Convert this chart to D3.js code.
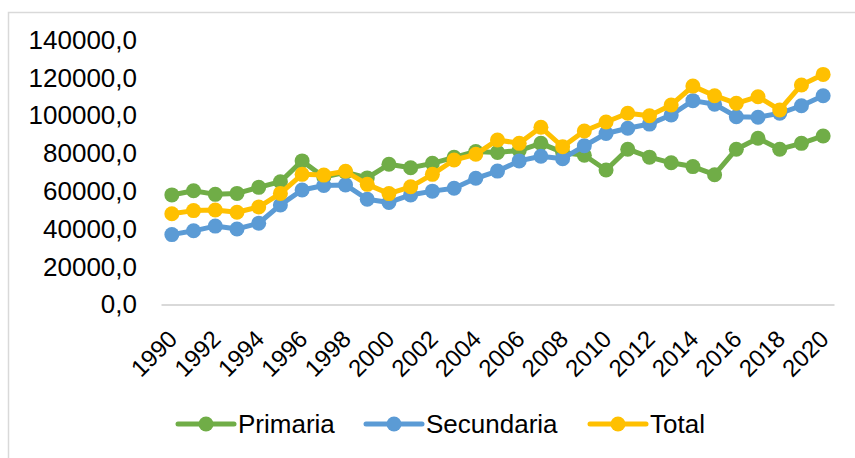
<!DOCTYPE html>
<html>
<head>
<meta charset="utf-8">
<script src="https://cdn.jsdelivr.net/npm/d3@7"></script>
<style>
  body { margin: 0; background: #fff; }
  text { font-family: "Liberation Sans", Arial, sans-serif; fill: #000; }
</style>
</head>
<body>
<div id="container"></div>
<script>
let w = 855;
let h = 458;

// data
let years = d3.range(1990, 2021);
let yTicks = [0, 20000, 40000, 60000, 80000, 100000, 120000, 140000];
let primaria = [58000, 60200, 58300, 58800, 62000, 65000, 76000, 67500, 70000, 67000,
  74200, 72400, 74700, 77900, 81000, 80500, 81500, 85300, 80500, 79000,
  71200, 82200, 78000, 75000, 73000, 68700, 82200, 88000, 82200, 85300, 89200];
let secundaria = [37000, 39000, 41500, 40000, 43000, 52700, 60600, 63000, 63300, 55700,
  54000, 58000, 60000, 61500, 66800, 70600, 76000, 78500, 77200, 84000,
  90500, 93300, 95500, 100300, 107900, 106000, 99400, 99100, 101200, 105200, 110500];
let total = [48000, 49700, 50000, 48800, 51600, 58800, 68900, 68500, 70500, 63600,
  58700, 62300, 68900, 76500, 79500, 87100, 85300, 93800, 83500, 91800,
  96600, 101200, 99900, 105600, 115600, 110500, 106500, 110000, 103000, 116200, 121800];
let seriesNames = ["Primaria", "Secundaria", "Total"];
let colors = ["#70AD47", "#5B9BD5", "#FFC000"];

let series = [primaria, secundaria, total].map(function(vals, i){
  return {name: seriesNames[i], color: colors[i], values: vals};
});

let viz = d3.select("#container").append("svg")
    .attr("width", w)
    .attr("height", h)
    .style("display", "block");

// chart frame (only top and left edges show in the picture)
viz.append("rect")
  .attr("x", 8.5).attr("y", 12.5)
  .attr("width", w).attr("height", h)
  .attr("fill", "none").attr("stroke", "#d9d9d9").attr("stroke-width", 1.5);

let plot = {left: 161, right: 834, top: 40, bottom: 304.5};

let x = d3.scaleBand().domain(years).range([plot.left, plot.right]);
let y = d3.scaleLinear().domain([0, 140000]).range([plot.bottom, plot.top]);

let fmt = function(d){ return d3.format(".1f")(d).replace(".", ","); };

// y axis
let yAxis = viz.append("g")
  .attr("transform", "translate(137,0)")
  .call(d3.axisLeft(y).tickValues(yTicks).tickFormat(fmt).tickSize(0));
yAxis.select(".domain").remove();
yAxis.selectAll("text")
  .attr("x", 0)
  .style("font-size", "26px")
  .style("font-family", "Liberation Sans, Arial, sans-serif");

// x axis
let xAxis = viz.append("g")
  .attr("transform", "translate(0," + plot.bottom + ")")
  .call(d3.axisBottom(x).tickValues(years.filter(function(d){ return d % 2 == 0; })).tickSize(0));
xAxis.select(".domain").attr("stroke", "#d9d9d9").attr("stroke-width", 2);
xAxis.selectAll("text")
  .style("font-size", "24px")
  .style("font-family", "Liberation Sans, Arial, sans-serif")
  .attr("text-anchor", "end")
  .attr("dy", "0.35em")
  .attr("transform", "translate(1,30) rotate(-45)")
  .attr("y", 0).attr("x", 0);

let lineMaker = d3.line()
  .x(function(d, i){ return x(years[i]) + x.bandwidth() / 2; })
  .y(function(d){ return y(d); });

series.forEach(function(s){
  let g = viz.append("g");
  g.append("path")
    .attr("d", lineMaker(s.values))
    .attr("fill", "none")
    .attr("stroke", s.color)
    .attr("stroke-width", 5)
    .attr("stroke-linejoin", "round");
  g.selectAll("circle").data(s.values).enter()
    .append("circle")
      .attr("cx", function(d, i){ return x(years[i]) + x.bandwidth() / 2; })
      .attr("cy", function(d){ return y(d); })
      .attr("r", 7.5)
      .attr("fill", s.color);
});

// legend
let legendX = [178, 366, 590];
let legend = viz.selectAll(".legend").data(series).enter()
  .append("g")
  .attr("class", "legend")
  .attr("transform", function(d, i){ return "translate(" + legendX[i] + ",424)"; });
legend.append("line")
  .attr("x1", 0).attr("x2", 56).attr("y1", 0).attr("y2", 0)
  .attr("stroke", function(d){ return d.color; })
  .attr("stroke-width", 5)
  .attr("stroke-linecap", "round");
legend.append("circle")
  .attr("cx", 28).attr("cy", 0).attr("r", 7.5)
  .attr("fill", function(d){ return d.color; });
legend.append("text")
  .attr("x", 60).attr("y", 0).attr("dy", "0.36em")
  .style("font-size", "26px")
  .text(function(d){ return d.name; });
</script>
</body>
</html>
